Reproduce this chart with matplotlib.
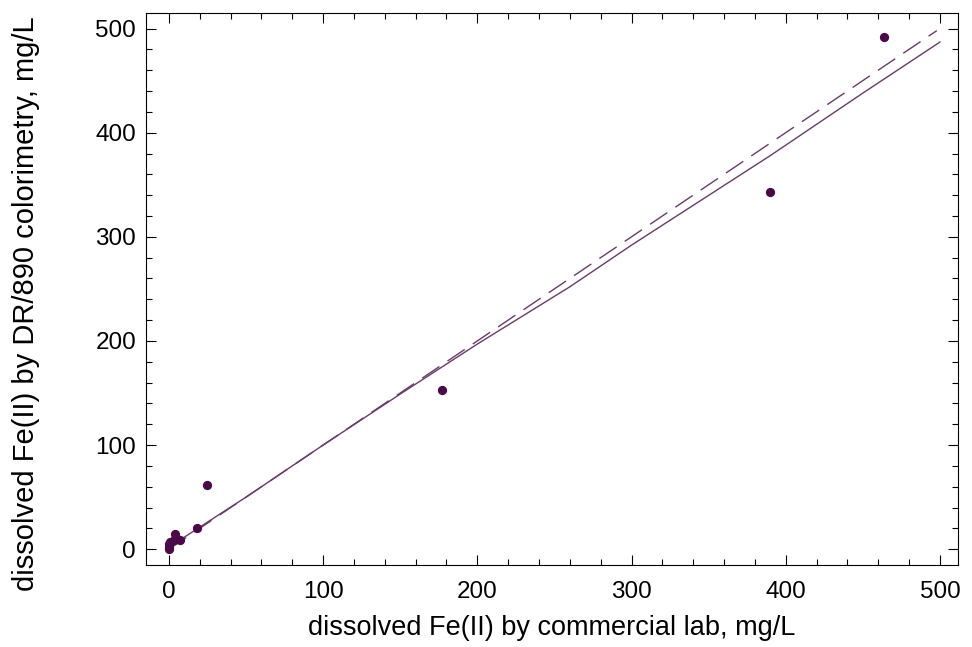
import matplotlib.pyplot as plt
import numpy as np
from matplotlib.ticker import MultipleLocator

plt.rcParams['font.family'] = ['Liberation Sans', 'DejaVu Sans']

# measured Fe(II), mg/L
lab_fe = [0, 0, 0, 1, 3, 4, 5, 7, 18, 25, 177, 390, 464]
dr890_fe = [0, 2, 5, 7, 9, 15, 10, 9, 20, 62, 153, 343, 492]

# fitted curve (solid) and 1:1 line (dashed)
fit_x = [0, 50, 100, 150, 200, 260, 300, 390, 450, 500]
fit_y = [2, 50, 100, 149, 197, 252, 292, 378, 438, 487]
one_x = [0, 498]
one_y = [0, 498]

fig = plt.figure(figsize=(9.72, 6.47), dpi=100)
ax = fig.add_axes([0.150, 0.127, 0.836, 0.853])

ax.plot(fit_x, fit_y, color='#6a3a6a', lw=1.0)
ax.plot(one_x, one_y, color='#6a3a6a', lw=1.0, dashes=(15, 7))
ax.scatter(lab_fe, dr890_fe, s=32, color='#4a0a4a', zorder=3)

ax.set_xlim(-15, 512)
ax.set_ylim(-15, 515)
ax.xaxis.set_major_locator(MultipleLocator(100))
ax.xaxis.set_minor_locator(MultipleLocator(20))
ax.yaxis.set_major_locator(MultipleLocator(100))
ax.yaxis.set_minor_locator(MultipleLocator(20))
ax.tick_params(which='both', direction='in', top=True, right=True,
               labelsize=17.5, width=0.8)
ax.tick_params(which='major', length=7)
ax.tick_params(which='minor', length=4)
ax.tick_params(axis='x', which='major', pad=12)
ax.tick_params(axis='y', which='major', pad=7)
ax.tick_params(axis='x', labeltop=False)
ax.tick_params(axis='y', labelright=False)
for s in ax.spines.values():
    s.set_linewidth(0.8)

ax.set_xlabel('dissolved Fe(II) by commercial lab, mg/L', fontsize=19.5, labelpad=8)
ax.set_ylabel('dissolved Fe(II) by DR/890 colorimetry, mg/L', fontsize=21)
ax.yaxis.set_label_coords(-0.13, 0.473)

fig.savefig('out.png')
